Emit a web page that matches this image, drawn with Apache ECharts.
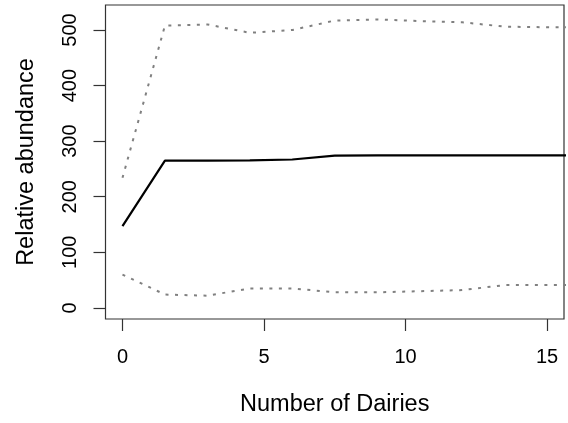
<!DOCTYPE html>
<html>
<head>
<meta charset="utf-8">
<script src="https://cdn.jsdelivr.net/npm/echarts@6/dist/echarts.min.js"></script>
<style>
  html, body { margin: 0; padding: 0; background: #fff; }
  #chart { width: 568px; height: 423px; }
</style>
</head>
<body>
<div id="chart"></div>
<script>
// Number of dairies sampled (the last point lies past the visible range)
const dairies = [0, 1.5, 3, 4.5, 6, 7.5, 9, 10.5, 12, 13.5, 15, 16.5];
// Mean relative abundance
const meanAbundance = [147, 265, 265, 265.5, 267, 274, 274.5, 274.5, 274.5, 274.5, 274.5, 274.5];
// Upper and lower bounds
const upperBound = [234, 508, 510, 495, 500, 517, 519, 516, 514, 506, 505, 505];
const lowerBound = [60, 24, 22, 35, 35, 28, 28, 30, 32, 41, 41, 41];
// Tick labels
const xTicks = [0, 5, 10, 15];
const yTicks = [0, 100, 200, 300, 400, 500];

const font = "'Liberation Sans', Arial, sans-serif";
const pairs = ys => dairies.map((x, i) => [x, ys[i]]);

const chart = echarts.init(document.getElementById('chart'), null, { renderer: 'canvas' });
chart.setOption({
  animation: false,
  backgroundColor: '#fff',
  grid: {
    left: 105.5, right: 4, top: 5, bottom: 104,
    show: true, borderColor: '#333', borderWidth: 1.2, backgroundColor: 'transparent'
  },
  xAxis: {
    type: 'value', min: -0.6, max: 15.6,
    name: 'Number of Dairies', nameLocation: 'middle', nameGap: 74,
    nameTextStyle: { fontFamily: font, fontSize: 23.5, color: '#000' },
    axisLine: { show: false, onZero: false },
    splitLine: { show: false },
    axisTick: { show: true, inside: false, length: 12, customValues: xTicks,
      lineStyle: { color: '#333', width: 1.2 } },
    axisLabel: { customValues: xTicks, margin: 28, fontFamily: font, fontSize: 20, color: '#000' }
  },
  yAxis: {
    type: 'value', min: -20, max: 545,
    name: 'Relative abundance', nameLocation: 'middle', nameGap: 67, nameRotate: 90,
    nameTextStyle: { fontFamily: font, fontSize: 23.5, color: '#000' },
    axisLine: { show: false, onZero: false },
    splitLine: { show: false },
    axisTick: { show: true, inside: false, length: 12, customValues: yTicks,
      lineStyle: { color: '#333', width: 1.2 } },
    axisLabel: { customValues: yTicks, rotate: 90, margin: 25, fontFamily: font, fontSize: 20, color: '#000' }
  },
  series: [
    {
      type: 'line', data: pairs(upperBound), showSymbol: false, clip: true,
      lineStyle: { color: '#808080', width: 2, type: [3, 6.5] }
    },
    {
      type: 'line', data: pairs(lowerBound), showSymbol: false, clip: true,
      lineStyle: { color: '#808080', width: 2, type: [3, 6.5] }
    },
    {
      type: 'line', data: pairs(meanAbundance), showSymbol: false, clip: true,
      lineStyle: { color: '#000', width: 2.2 }
    }
  ]
});
</script>
</body>
</html>
